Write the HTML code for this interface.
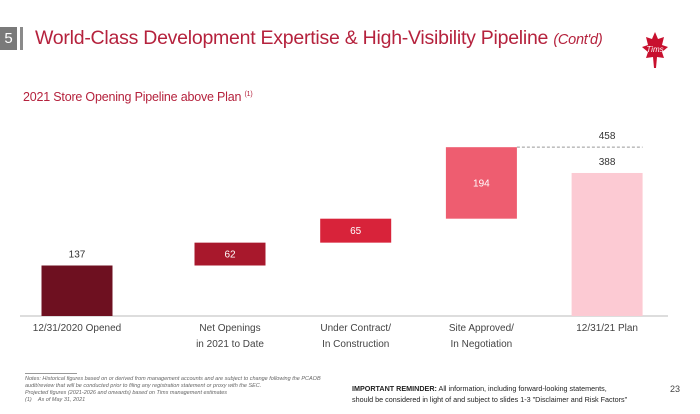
<!DOCTYPE html>
<html><head><meta charset="utf-8"><style>
body{margin:0;width:700px;height:414px;background:#fff;font-family:"Liberation Sans",sans-serif;position:relative;overflow:hidden}
.a{position:absolute}
</style></head><body>
<div class="a" style="left:0;top:27px;width:17px;height:23px;background:#7a7a7a;color:#fff;font-size:15px;line-height:23px;text-align:center">5</div>
<div class="a" style="left:20px;top:27px;width:3px;height:23px;background:#8a8a8a"></div>
<div class="a" style="left:35px;top:27px;font-size:19.5px;color:#b5223d;letter-spacing:-0.25px;white-space:nowrap">World-Class Development Expertise &amp; High-Visibility Pipeline <i style="font-size:14.5px">(Cont'd)</i></div>
<svg class="a" style="left:640px;top:30px" width="30" height="42" viewBox="0 0 30 42"><path d="M15 2 L18 9 L24 7 L22 15 L28 17 L22 22 L24 28 L17 27 L16 38 L14 38 L13 27 L6 28 L8 22 L2 17 L8 15 L6 7 L12 9Z" fill="#c8102e"/><text x="15" y="22" font-size="8" fill="#fff" text-anchor="middle" font-style="italic">Tims</text></svg>
<div class="a" style="left:23px;top:90px;font-size:12.5px;color:#b5223d;letter-spacing:-0.2px">2021 Store Opening Pipeline above Plan <sup style="font-size:7px">(1)</sup></div>
<svg class="a" id="chart" style="left:0;top:0" width="700" height="414"></svg>
<div class="a" style="left:25px;top:373px;width:52px;height:1px;background:#999"></div>
<div class="a" style="left:25px;top:376px;font-size:5.5px;line-height:7px;color:#666;font-style:italic;width:300px">Notes: Historical figures based on or derived from management accounts and are subject to change following the PCAOB audit/review that will be conducted prior to filing any registration statement or proxy with the SEC.<br>Projected figures (2021-2026 and onwards) based on Tims management estimates<br>(1)&nbsp;&nbsp;&nbsp;&nbsp;As of May 31, 2021</div>
<div class="a" style="left:352px;top:383px;font-size:7.2px;line-height:11px;color:#222;white-space:nowrap"><b>IMPORTANT REMINDER:</b> All information, including forward-looking statements,<br>should be considered in light of and subject to slides 1-3 "Disclaimer and Risk Factors"</div>
<div class="a" style="left:670px;top:384px;font-size:9px;color:#444">23</div>
<script>
const categories=[["12/31/2020 Opened"],["Net Openings","in 2021 to Date"],["Under Contract/","In Construction"],["Site Approved/","In Negotiation"],["12/31/21 Plan"]];
const values=[137,62,65,194,388];
const kinds=["total","delta","delta","delta","total"];
const target=458;
const colors=["#6e1020","#a8182c","#d8233a","#ee5d70","#fccad3"];
const svg=document.getElementById('chart');const NS="http://www.w3.org/2000/svg";
const base=316,k=0.3686,bw=71;
const y=v=>base-v*k, cx=i=>i===0?77:230+(i-1)*125.7;
function el(t,a){const e=document.createElementNS(NS,t);for(const q in a)e.setAttribute(q,a[q]);svg.appendChild(e);return e;}
const axis=el('line',{x1:20,x2:668,y1:base,y2:base,stroke:'#bbb','stroke-width':1});

let run=0;
values.forEach((v,i)=>{
  let lo,hi;
  if(kinds[i]==='total'){lo=0;hi=v;run=v;}else{lo=run;hi=run+v;run=hi;}
  const r=el('rect',{x:cx(i)-bw/2,y:y(hi),width:bw,height:y(lo)-y(hi),fill:colors[i]});
  
  let t;
  if(kinds[i]==='total'){t=el('text',{x:cx(i),y:y(hi)-8,'font-size':10,fill:'#333','text-anchor':'middle'});}
  else{t=el('text',{x:cx(i),y:(y(hi)+y(lo))/2+3.5,'font-size':10,fill:'#fff','text-anchor':'middle'});}
  t.textContent=v;
  categories[i].forEach((s,j)=>{const c=el('text',{x:cx(i),y:331+j*16,'font-size':10,fill:'#444','text-anchor':'middle'});c.textContent=s;
    });
});
const d=el('line',{x1:cx(3)+bw/2,x2:cx(4)+bw/2,y1:y(target),y2:y(target),stroke:'#999','stroke-dasharray':'3,2'});

const tt=el('text',{x:cx(4),y:y(target)-8,'font-size':10,fill:'#333','text-anchor':'middle'});tt.textContent=target;

</script>
</body></html>
